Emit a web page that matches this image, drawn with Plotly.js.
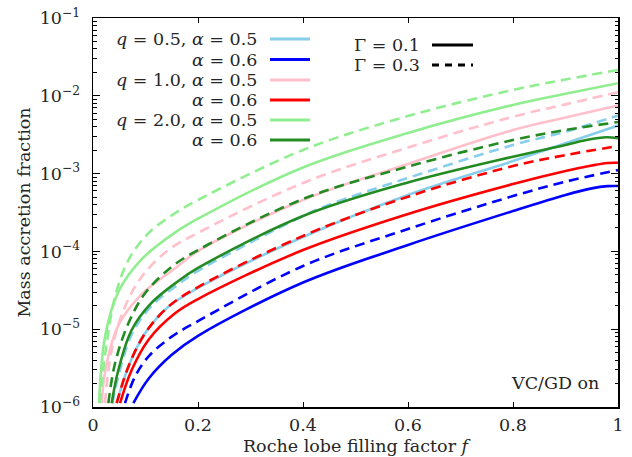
<!DOCTYPE html>
<html>
<head>
<meta charset="utf-8">
<script src="https://cdn.plot.ly/plotly-3.0.1.min.js"></script>
<style>html,body{margin:0;padding:0;background:#fff;}#chart{width:632px;height:457px;}</style>
</head>
<body>
<div id="chart"></div>
<script>
// ---- data ----
// q = 2.0, alpha = 0.5
const f_q2a05_g03 = [0.0134, 0.0166, 0.0261, 0.042, 0.0674, 0.1055, 0.156, 0.2, 0.4, 0.6, 0.8, 0.9, 1.0];
const m_q2a05_g03 = [1.12e-6, 2.02e-6, 6.59e-6, 2.62e-5, 7.74e-5, 1.71e-4, 3.09e-4, 4.58e-4, 2.01e-3, 5.50e-3, 1.19e-2, 1.62e-2, 2.15e-2];
const f_q2a05_g01 = [0.0115, 0.0229, 0.0483, 0.0928, 0.156, 0.2, 0.4, 0.6, 0.8, 0.9, 1.0];
const m_q2a05_g01 = [1.12e-6, 8.02e-6, 3.02e-5, 7.94e-5, 1.74e-4, 2.63e-4, 1.20e-3, 3.33e-3, 7.62e-3, 1.06e-2, 1.45e-2];
// q = 1.0, alpha = 0.5
const f_q1a05_g03 = [0.0229, 0.0356, 0.061, 0.0928, 0.1436, 0.2, 0.4, 0.6, 0.8, 0.9, 1.0];
const m_q1a05_g03 = [1.12e-6, 5.41e-6, 1.95e-5, 4.73e-5, 1.04e-4, 1.73e-4, 7.57e-4, 2.17e-3, 5.38e-3, 7.76e-3, 1.11e-2];
const f_q1a05_g01 = [0.017, 0.0229, 0.0483, 0.0928, 0.156, 0.2, 0.4, 0.6, 0.8, 0.9, 1.0];
const m_q1a05_g01 = [1.12e-6, 2.82e-6, 1.12e-5, 2.82e-5, 6.03e-5, 1.01e-4, 4.58e-4, 1.33e-3, 3.63e-3, 5.25e-3, 7.50e-3];
// q = 2.0, alpha = 0.6
const f_q2a06_g03 = [0.0293, 0.042, 0.0674, 0.0991, 0.15, 0.2, 0.4, 0.6, 0.8, 0.9, 1.0];
const m_q2a06_g03 = [1.12e-6, 3.65e-6, 1.19e-5, 2.89e-5, 6.35e-5, 1.04e-4, 4.72e-4, 1.23e-3, 2.70e-3, 3.63e-3, 4.60e-3];
const f_q2a06_g01 = [0.0356, 0.0483, 0.0737, 0.1118, 0.1626, 0.2, 0.4, 0.6, 0.8, 0.9, 0.94, 0.978, 1.0];
const m_q2a06_g01 = [1.12e-6, 2.99e-6, 9.77e-6, 2.19e-5, 4.17e-5, 6.12e-5, 2.85e-4, 7.69e-4, 1.65e-3, 2.33e-3, 2.70e-3, 2.93e-3, 2.84e-3];
// q = 0.5, alpha = 0.5
const f_q05a05_g03 = [0.037, 0.05, 0.075, 0.112, 0.163, 0.2, 0.4, 0.457, 0.578, 0.8, 0.9, 1.0];
const m_q05a05_g03 = [1.12e-6, 2.75e-6, 8.91e-6, 2.00e-5, 3.80e-5, 5.62e-5, 2.85e-4, 4.15e-4, 7.87e-4, 2.33e-3, 3.46e-3, 5.58e-3];
const f_q05a05_g01 = [0.0451, 0.0674, 0.0991, 0.1436, 0.2, 0.4, 0.6, 0.8, 0.9, 1.0];
const m_q05a05_g01 = [1.12e-6, 3.30e-6, 8.85e-6, 1.95e-5, 3.39e-5, 1.53e-4, 5.31e-4, 1.45e-3, 2.45e-3, 4.15e-3];
// q = 1.0, alpha = 0.6
const f_q1a06_g03 = [0.0451, 0.0674, 0.0991, 0.1436, 0.2, 0.4, 0.6, 0.8, 0.9, 1.0];
const m_q1a06_g03 = [1.12e-6, 3.30e-6, 8.85e-6, 1.95e-5, 3.48e-5, 1.58e-4, 5.05e-4, 1.25e-3, 1.73e-3, 2.26e-3];
const f_q1a06_g01 = [0.0515, 0.0737, 0.1055, 0.1563, 0.2, 0.4, 0.6, 0.8, 0.9, 0.95, 0.98, 1.0];
const m_q1a06_g01 = [1.12e-6, 2.99e-6, 7.28e-6, 1.60e-5, 2.44e-5, 1.04e-4, 3.03e-4, 7.35e-4, 1.08e-3, 1.27e-3, 1.37e-3, 1.38e-3];
// q = 0.5, alpha = 0.6
const f_q05a06_g03 = [0.061, 0.08, 0.1055, 0.1499, 0.2, 0.4, 0.6, 0.8, 0.9, 1.0];
const m_q05a06_g03 = [1.12e-6, 2.46e-6, 4.44e-6, 8.02e-6, 1.27e-5, 6.49e-5, 1.94e-4, 5.15e-4, 7.87e-4, 1.11e-3];
const f_q05a06_g01 = [0.0769, 0.1055, 0.15, 0.2, 0.4, 0.6, 0.8, 0.9, 0.95, 0.98, 1.0];
const m_q05a06_g01 = [1.12e-6, 2.29e-6, 4.68e-6, 8.22e-6, 3.98e-5, 1.21e-4, 3.30e-4, 5.31e-4, 6.46e-4, 6.90e-4, 6.93e-4];

const xTicks = [0, 0.2, 0.4, 0.6, 0.8, 1];
const xTickText = ["0", "0.2", "0.4", "0.6", "0.8", "1"];
const yTicks = [1e-6, 1e-5, 1e-4, 1e-3, 1e-2, 1e-1];
const yTickText = ["10<sup>−6</sup>", "10<sup>−5</sup>", "10<sup>−4</sup>", "10<sup>−3</sup>", "10<sup>−2</sup>", "10<sup>−1</sup>"];

const legendLabels = [
  "<i>q</i> = 0.5, <i>α</i> = 0.5", "<i>α</i> = 0.6",
  "<i>q</i> = 1.0, <i>α</i> = 0.5", "<i>α</i> = 0.6",
  "<i>q</i> = 2.0, <i>α</i> = 0.5", "<i>α</i> = 0.6"
];
const legendColors = ["#87CEEB", "#0000FF", "#FFC0CB", "#FF0000", "#90EE90", "#228B22"];
const gammaLabels = ["Γ = 0.1", "Γ = 0.3"];

// ---- styling ----
const FONT = "DejaVu Serif, Liberation Serif, serif";
const FS = 17.5;
const TXT = "#262626";
const DASH = "10px,6px";
const LW = 2.6;

const series = [
  [f_q05a05_g01, m_q05a05_g01, "#87CEEB", "solid"],
  [f_q05a05_g03, m_q05a05_g03, "#87CEEB", DASH],
  [f_q05a06_g01, m_q05a06_g01, "#0000FF", "solid"],
  [f_q05a06_g03, m_q05a06_g03, "#0000FF", DASH],
  [f_q1a05_g01, m_q1a05_g01, "#FFC0CB", "solid"],
  [f_q1a05_g03, m_q1a05_g03, "#FFC0CB", DASH],
  [f_q1a06_g01, m_q1a06_g01, "#FF0000", "solid"],
  [f_q1a06_g03, m_q1a06_g03, "#FF0000", DASH],
  [f_q2a05_g01, m_q2a05_g01, "#90EE90", "solid"],
  [f_q2a05_g03, m_q2a05_g03, "#90EE90", DASH],
  [f_q2a06_g01, m_q2a06_g01, "#228B22", "solid"],
  [f_q2a06_g03, m_q2a06_g03, "#228B22", DASH]
];

const traces = series.map(s => ({
  x: s[0], y: s[1], type: "scatter", mode: "lines",
  line: {color: s[2], width: LW, dash: s[3], shape: "spline", smoothing: 1},
  showlegend: false, hoverinfo: "skip"
}));

// plot area in pixels
const L = 93, R = 618, T = 18, B = 407;
const px2x = p => (p - L) / (R - L);
const py2y = p => (B - p) / (B - T);

const annotations = [];
const shapes = [];
const rowsY = [39, 59.5, 80, 100, 120, 140];
legendLabels.forEach((t, i) => {
  annotations.push({xref: "paper", yref: "paper", x: px2x(259), y: py2y(rowsY[i]), xanchor: "right", yanchor: "middle",
    text: t, showarrow: false, font: {family: FONT, size: FS, color: TXT}});
  shapes.push({type: "line", xref: "paper", yref: "paper", x0: px2x(270), x1: px2x(310), y0: py2y(rowsY[i]), y1: py2y(rowsY[i]),
    line: {color: legendColors[i], width: 3}});
});
const gRows = [45, 65];
gammaLabels.forEach((t, i) => {
  annotations.push({xref: "paper", yref: "paper", x: px2x(422), y: py2y(gRows[i]), xanchor: "right", yanchor: "middle",
    text: t, showarrow: false, font: {family: FONT, size: FS, color: TXT}});
  shapes.push({type: "line", xref: "paper", yref: "paper", x0: px2x(432), x1: px2x(473), y0: py2y(gRows[i]), y1: py2y(gRows[i]),
    line: {color: "#000", width: 3, dash: i === 0 ? "solid" : "7px,6px"}});
});
annotations.push({xref: "paper", yref: "paper", x: px2x(601), y: py2y(383), xanchor: "right", yanchor: "middle",
  text: "VC/GD on", showarrow: false, font: {family: FONT, size: FS, color: TXT}});

const layout = {
  width: 632, height: 457,
  margin: {l: L, r: 632 - R, t: T, b: 457 - B, pad: 0},
  paper_bgcolor: "#fff", plot_bgcolor: "#fff",
  font: {family: FONT, size: FS, color: TXT},
  xaxis: {
    range: [0, 1], tickvals: xTicks, ticktext: xTickText,
    ticks: "inside", ticklen: 5, tickwidth: 1, tickcolor: "#000",
    showline: true, linecolor: "#000", linewidth: 1.5, mirror: "allticks",
    showgrid: false, zeroline: false,
    ticklabelstandoff: 1,
    tickfont: {family: FONT, size: FS, color: TXT},
    title: {text: "Roche lobe filling factor <i>f</i>", font: {family: FONT, size: FS, color: TXT}, standoff: 6}
  },
  yaxis: {
    type: "log", range: [-6, -1], tickvals: yTicks, ticktext: yTickText,
    ticks: "inside", ticklen: 7, tickwidth: 1, tickcolor: "#000",
    minor: {ticks: "inside", ticklen: 3.5, tickcolor: "#000", tickwidth: 1, dtick: "D1", showgrid: false},
    showline: true, linecolor: "#000", linewidth: 1.5, mirror: "allticks",
    showgrid: false, zeroline: false,
    ticklabelstandoff: 8,
    tickfont: {family: FONT, size: FS, color: TXT},
    title: {text: "Mass accretion fraction", font: {family: FONT, size: FS, color: TXT}, standoff: 4}
  },
  annotations: annotations,
  shapes: shapes
};

Plotly.newPlot("chart", traces, layout, {staticPlot: true, displayModeBar: false});
</script>
</body>
</html>
